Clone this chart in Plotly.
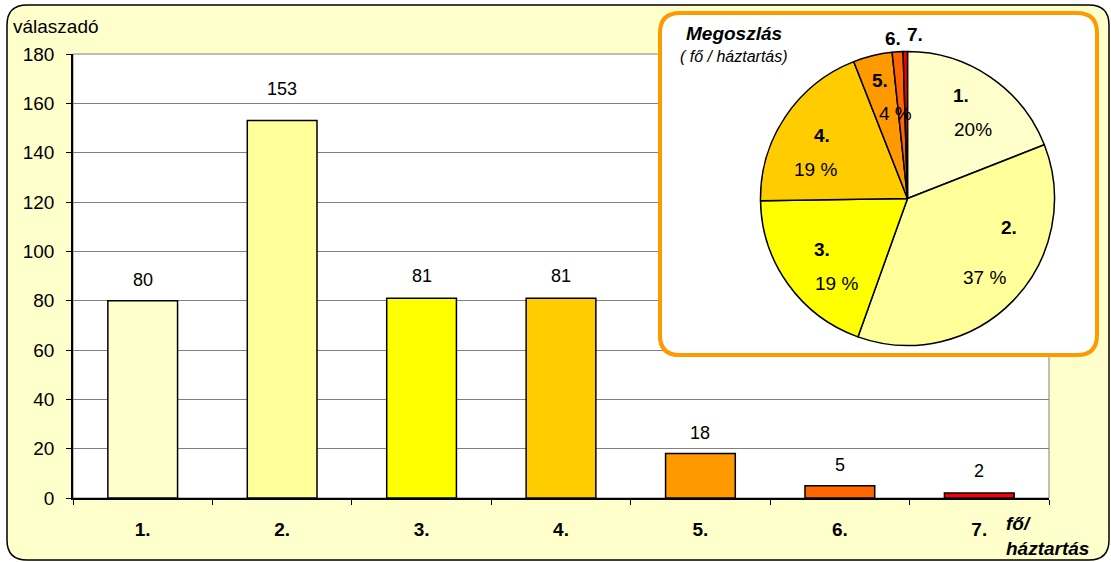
import math
import plotly.graph_objects as go

# ---------------- data ----------------
categories = ["1.", "2.", "3.", "4.", "5.", "6.", "7."]
respondents = [80, 153, 81, 81, 18, 5, 2]
pie_percent_labels = ["20%", "37 %", "19 %", "19 %", "4 %", "", ""]
y_tick_values = [0, 20, 40, 60, 80, 100, 120, 140, 160, 180]
y_axis_title = "válaszadó"
x_axis_title = ["fő/", "háztartás"]
pie_title = "Megoszlás"
pie_subtitle = "( fő / háztartás)"

# ---------------- style ----------------
colors = ["#FFFFCC", "#FFFF99", "#FFFF00", "#FFCC00", "#FF9900", "#FF6600", "#FF0000"]
value_label_lift = [8.5, 20, 10, 10, 8.5, 9, 10.5]  # pixel gap above each bar
FONT = "Arial, 'Liberation Sans', sans-serif"
W, H = 1111, 562
ML, MR, MT, MB = 73, 10, 20, 64
PW, PH = W - ML - MR, H - MT - MB
PX0, PX1, PY0, PY1 = 73, 1049, 54, 498  # plot area in pixels
YMAX = 180
NCAT = len(categories)


def to_paper(x, y):
    return (x - ML) / PW, (H - MB - y) / PH


def to_data(x, y):
    cw = (PX1 - PX0) / NCAT
    return (x - PX0) / cw - 0.5, (PY1 - y) / (PY1 - PY0) * YMAX


def rounded_rect(x0, y0, x1, y1, r, conv):
    def P(x, y):
        a, b = conv(x, y)
        return f"{a:.5f},{b:.5f}"
    return (f"M {P(x0 + r, y0)} L {P(x1 - r, y0)} Q {P(x1, y0)} {P(x1, y0 + r)} "
            f"L {P(x1, y1 - r)} Q {P(x1, y1)} {P(x1 - r, y1)} "
            f"L {P(x0 + r, y1)} Q {P(x0, y1)} {P(x0, y1 - r)} "
            f"L {P(x0, y0 + r)} Q {P(x0, y0)} {P(x0 + r, y0)} Z")


# pie geometry (pixels)
PIE_CX, PIE_CY, PIE_R = 907.5, 198.5, 147
pdx0, pdy1 = to_paper(PIE_CX - PIE_R, PIE_CY - PIE_R)
pdx1, pdy0 = to_paper(PIE_CX + PIE_R, PIE_CY + PIE_R)

fig = go.Figure()

fig.add_trace(go.Bar(
    x=categories, y=respondents, width=0.5,
    marker=dict(color=colors, line=dict(color="black", width=1.5)),
    hoverinfo="skip", showlegend=False,
))

fig.add_trace(go.Pie(
    values=respondents, labels=categories, sort=False, direction="clockwise",
    rotation=0, textinfo="none", hoverinfo="skip", showlegend=False,
    marker=dict(colors=colors, line=dict(color="black", width=1.5)),
    domain=dict(x=[pdx0, pdx1], y=[pdy0, pdy1]),
))

annotations = []
# bar value labels (category index positions)
for i, v in enumerate(respondents):
    annotations.append(dict(x=i, y=v, xref="x", yref="y", text=str(v), showarrow=False,
                            yanchor="bottom", yshift=value_label_lift[i], font=dict(size=18)))

# pie labels computed from data
total = sum(respondents)
label_r = [0.72, 0.72, 0.72, 0.72, 0.72, 1.1, 1.1]
# pixel nudges (dx_num, dy_num, dx_pct, dy_pct)
nudges = [(-6, -16, 6, 18), (26, -45, 1, 5), (1, -11, 15, 23), (2, -4, -4, 30),
          (-2, -15, 13, 18), (-4, 1, 0, 0), (10, -2, 0, 0)]
cum = 0
for i, (c, v) in enumerate(zip(categories, respondents)):
    mid = (cum + v / 2) / total * 2 * math.pi
    cum += v
    rr = label_r[i] * PIE_R
    lx = PIE_CX + rr * math.sin(mid)
    ly = PIE_CY - rr * math.cos(mid)
    dxn, dyn, dxp, dyp = nudges[i]
    ax, ay = to_paper(lx + dxn, ly + dyn)
    annotations.append(dict(x=ax, y=ay, xref="paper", yref="paper", text=f"<b>{c}</b>",
                            showarrow=False, xanchor="center", yanchor="middle",
                            font=dict(size=19)))
    if pie_percent_labels[i]:
        ax, ay = to_paper(lx + dxp, ly + dyp)
        annotations.append(dict(x=ax, y=ay, xref="paper", yref="paper",
                                text=pie_percent_labels[i], showarrow=False,
                                xanchor="center", yanchor="middle", font=dict(size=19)))

# titles
ax, ay = to_paper(11, 27)
annotations.append(dict(x=ax, y=ay, xref="paper", yref="paper", text=y_axis_title,
                        showarrow=False, xanchor="left", yanchor="middle", font=dict(size=19)))
for txt, yy in zip(x_axis_title, [523, 548]):
    ax, ay = to_paper(1004, yy)
    annotations.append(dict(x=ax, y=ay, xref="paper", yref="paper", text=f"<b><i>{txt}</i></b>",
                            showarrow=False, xanchor="left", yanchor="middle", font=dict(size=19)))
ax, ay = to_paper(684, 33)
annotations.append(dict(x=ax, y=ay, xref="paper", yref="paper", text=f"<b><i>{pie_title}</i></b>",
                        showarrow=False, xanchor="left", yanchor="middle", font=dict(size=19)))
ax, ay = to_paper(678, 57)
annotations.append(dict(x=ax, y=ay, xref="paper", yref="paper", text=f"<i>{pie_subtitle}</i>",
                        showarrow=False, xanchor="left", yanchor="middle", font=dict(size=16)))

BOX = (660, 13, 1097, 355, 20)
p0 = to_paper(PX0, PY0)
p1 = to_paper(PX1, PY1)
shapes = [
    # chart-area background
    dict(type="path", xref="paper", yref="paper", layer="below",
         path=rounded_rect(7, 5, 1109, 560, 20, to_paper),
         fillcolor="#FFFFCC", line=dict(color="black", width=1.5)),
    # plot-area background
    dict(type="rect", xref="paper", yref="paper", layer="below",
         x0=p0[0], x1=p1[0], y0=p1[1], y1=p0[1],
         fillcolor="white", line=dict(color="#808080", width=1)),
    # inset box (outside part)
    dict(type="path", xref="paper", yref="paper", layer="below",
         path=rounded_rect(*BOX[:4], BOX[4], to_paper),
         fillcolor="white", line=dict(color="#FF9900", width=4)),
    # inset box over gridlines (clipped to plot area)
    dict(type="path", xref="x", yref="y", layer="between",
         path=rounded_rect(*BOX[:4], BOX[4], to_data),
         fillcolor="white", line=dict(color="#FF9900", width=4)),
]

fig.update_layout(
    width=W, height=H,
    margin=dict(l=ML, r=MR, t=MT, b=MB),
    paper_bgcolor="white", plot_bgcolor="white",
    font=dict(family=FONT, color="black", size=18),
    showlegend=False,
    annotations=annotations,
    shapes=shapes,
    xaxis=dict(domain=[0, (PX1 - PX0) / PW], type="category", range=[-0.5, NCAT - 0.5],
               tickmode="array", tickvals=categories,
               ticktext=[f"<b>{c}</b>" for c in categories],
               tickson="boundaries", ticks="outside", ticklen=5, tickcolor="black",
               showline=True, linecolor="black", linewidth=1.5, showgrid=False,
               tickfont=dict(size=19), ticklabelstandoff=13, fixedrange=True),
    yaxis=dict(domain=[0, (PY1 - PY0) / PH], range=[0, YMAX], tickmode="array",
               tickvals=y_tick_values, ticks="outside", ticklen=5, tickcolor="black",
               showline=True, linecolor="black", linewidth=1.5,
               showgrid=True, gridcolor="#808080", gridwidth=1, zeroline=False,
               tickfont=dict(size=19), ticklabelstandoff=8, fixedrange=True),
)

fig.write_html("out.html", config={"displayModeBar": False},
               post_script="document.body.style.margin='0';document.body.style.padding='0';")
